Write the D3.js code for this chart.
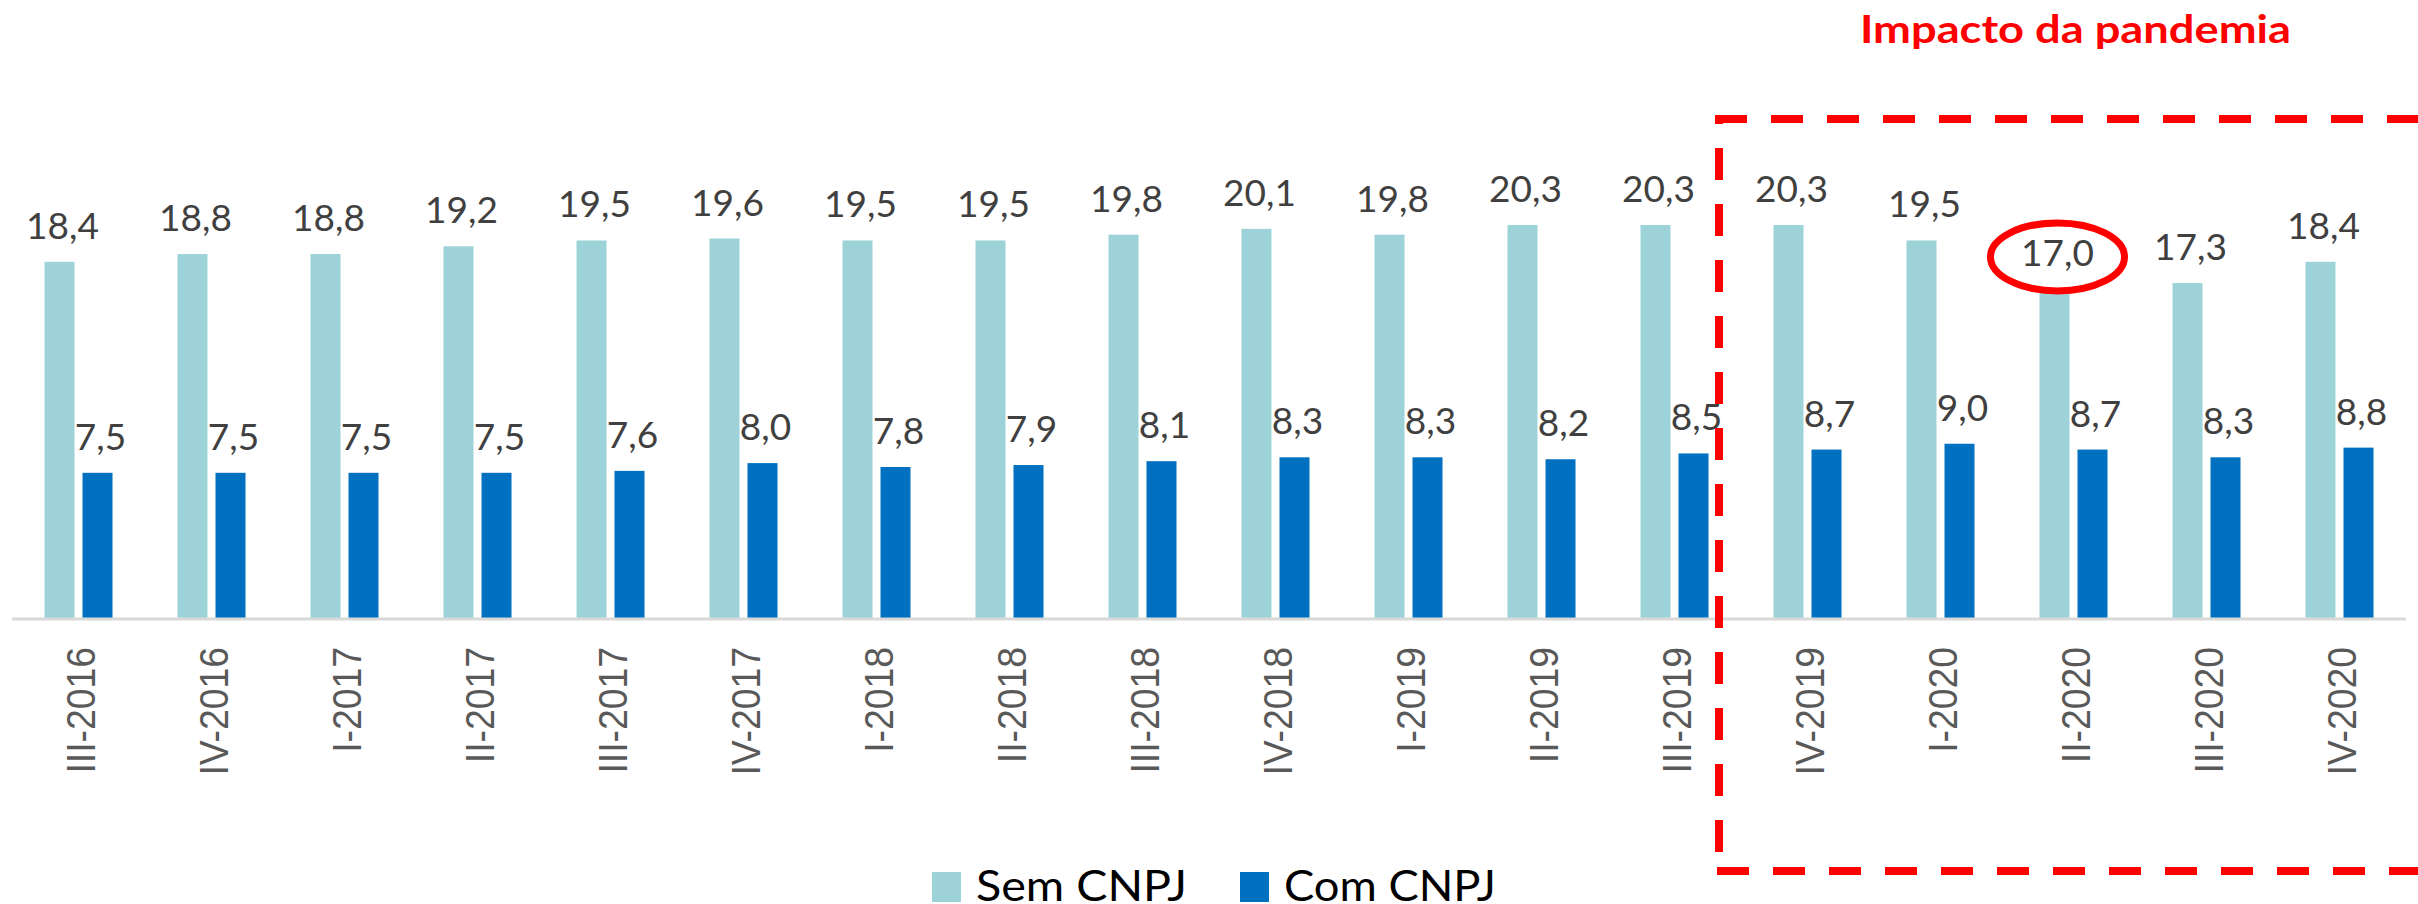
<!DOCTYPE html>
<html>
<head>
<meta charset="utf-8">
<script src="https://cdn.jsdelivr.net/npm/d3@7"></script>
<style>
  html, body { margin: 0; padding: 0; background: #fff; }
  svg { display: block; }
</style>
</head>
<body>
<div id="chart"></div>
<script>
// Quarters (Roman numeral quarter - year)
const categories = [
  'III-2016', 'IV-2016', 'I-2017', 'II-2017', 'III-2017', 'IV-2017',
  'I-2018', 'II-2018', 'III-2018', 'IV-2018', 'I-2019', 'II-2019',
  'III-2019', 'IV-2019', 'I-2020', 'II-2020', 'III-2020', 'IV-2020',
];
const semCnpj = [18.4, 18.8, 18.8, 19.2, 19.5, 19.6, 19.5, 19.5, 19.8, 20.1, 19.8, 20.3, 20.3, 20.3, 19.5, 17.0, 17.3, 18.4];
const comCnpj = [7.5, 7.5, 7.5, 7.5, 7.6, 8.0, 7.8, 7.9, 8.1, 8.3, 8.3, 8.2, 8.5, 8.7, 9.0, 8.7, 8.3, 8.8];
const seriesNames = ['Sem CNPJ', 'Com CNPJ'];
const seriesColors = ['#9DD3D8', '#0070C0'];
const pandemicStart = 'IV-2019';
const highlighted = 'II-2020';   // circled value
const title = 'Impacto da pandemia';

const W = 2418, H = 904;
const fmt = v => v.toFixed(1).replace('.', ',');

const svg = d3.select('#chart').append('svg')
  .attr('width', W).attr('height', H)
  .style('background', '#fff');

const x0 = d3.scaleBand().domain(categories).range([12, 2406]).padding(0);
const x1 = d3.scaleBand().domain(seriesNames).range([0, x0.bandwidth()])
  .paddingInner(8 / 38).paddingOuter(0.855);
const y = d3.scaleLinear().domain([0, 25]).range([618, 618 - 25 * 19.36]);

const rows = categories.map((c, i) => ({ cat: c, values: [semCnpj[i], comCnpj[i]] }));

// bars
const groups = svg.selectAll('.grp')
  .data(rows)
  .join('g')
  .attr('class', 'grp')
  .attr('transform', d => `translate(${x0(d.cat)},0)`);

groups.selectAll('rect')
  .data(d => d.values.map((v, i) => ({ key: seriesNames[i], v, i })))
  .join('rect')
  .attr('x', d => x1(d.key))
  .attr('y', d => y(d.v))
  .attr('width', x1.bandwidth())
  .attr('height', d => y(0) - y(d.v))
  .attr('fill', d => seriesColors[d.i]);

// value labels
groups.selectAll('text.val')
  .data(d => d.values.map((v, i) => ({ key: seriesNames[i], v, i })))
  .join('text')
  .attr('class', 'val')
  .attr('x', d => x1(d.key) + x1.bandwidth() / 2 + 3)
  .attr('y', d => y(d.v) - 23)
  .attr('text-anchor', 'middle')
  .style('font-family', 'Lato, sans-serif')
  .style('font-size', '37px')
  .attr('fill', '#404040')
  .text(d => fmt(d.v));

// baseline axis
svg.append('line')
  .attr('x1', x0.range()[0]).attr('x2', x0.range()[1])
  .attr('y1', y(0) + 1).attr('y2', y(0) + 1)
  .attr('stroke', '#D9D9D9').attr('stroke-width', 3);

// category labels, rotated
svg.selectAll('.cat')
  .data(categories)
  .join('text')
  .attr('class', 'cat')
  .attr('transform', d => `translate(${x0(d) + x0.bandwidth() / 2 + 16},647) rotate(-90) scale(0.91,1)`)
  .attr('text-anchor', 'end')
  .style('font-family', "'Liberation Sans', Arial, sans-serif")
  .style('font-size', '41px')
  .attr('fill', '#595959')
  .text(d => d);

// highlight ellipse around circled label
const hi = categories.indexOf(highlighted);
svg.append('ellipse')
  .attr('cx', x0(highlighted) + x1(seriesNames[0]) + x1.bandwidth() / 2 + 3)
  .attr('cy', y(semCnpj[hi]) - 32)
  .attr('rx', 67).attr('ry', 34)
  .attr('fill', 'none')
  .attr('stroke', '#FF0000')
  .attr('stroke-width', 7);

// pandemic dashed box
const bx = x0(pandemicStart) - 22;
const red = '#FF0000';
svg.append('line')
  .attr('x1', bx - 4).attr('x2', W).attr('y1', 119).attr('y2', 119)
  .attr('stroke', red).attr('stroke-width', 8).attr('stroke-dasharray', '32 24');
svg.append('line')
  .attr('x1', bx).attr('x2', bx).attr('y1', 115).attr('y2', 875)
  .attr('stroke', red).attr('stroke-width', 8).attr('stroke-dasharray', '32 24')
  .attr('stroke-dashoffset', 23);
svg.append('line')
  .attr('x1', bx - 2).attr('x2', W).attr('y1', 871).attr('y2', 871)
  .attr('stroke', red).attr('stroke-width', 8).attr('stroke-dasharray', '32 24');

svg.append('text')
  .attr('x', 1860).attr('y', 43)
  .attr('textLength', 431).attr('lengthAdjust', 'spacingAndGlyphs')
  .style('font-family', 'Lato, sans-serif')
  .style('font-size', '39px')
  .style('font-weight', 'bold')
  .attr('fill', red)
  .text(title);

// legend
const legendX = [932, 1240];
const legendW = [211, 212];
const legend = svg.selectAll('.leg')
  .data(seriesNames)
  .join('g')
  .attr('class', 'leg')
  .attr('transform', (d, i) => `translate(${legendX[i]},872)`);
legend.append('rect')
  .attr('width', 29).attr('height', 30)
  .attr('fill', (d, i) => seriesColors[i]);
legend.append('text')
  .attr('x', 44).attr('y', 29)
  .attr('textLength', (d, i) => legendW[i]).attr('lengthAdjust', 'spacingAndGlyphs')
  .style('font-family', 'Lato, sans-serif')
  .style('font-size', '42px')
  .attr('fill', '#000')
  .text(d => d);
</script>
</body>
</html>
